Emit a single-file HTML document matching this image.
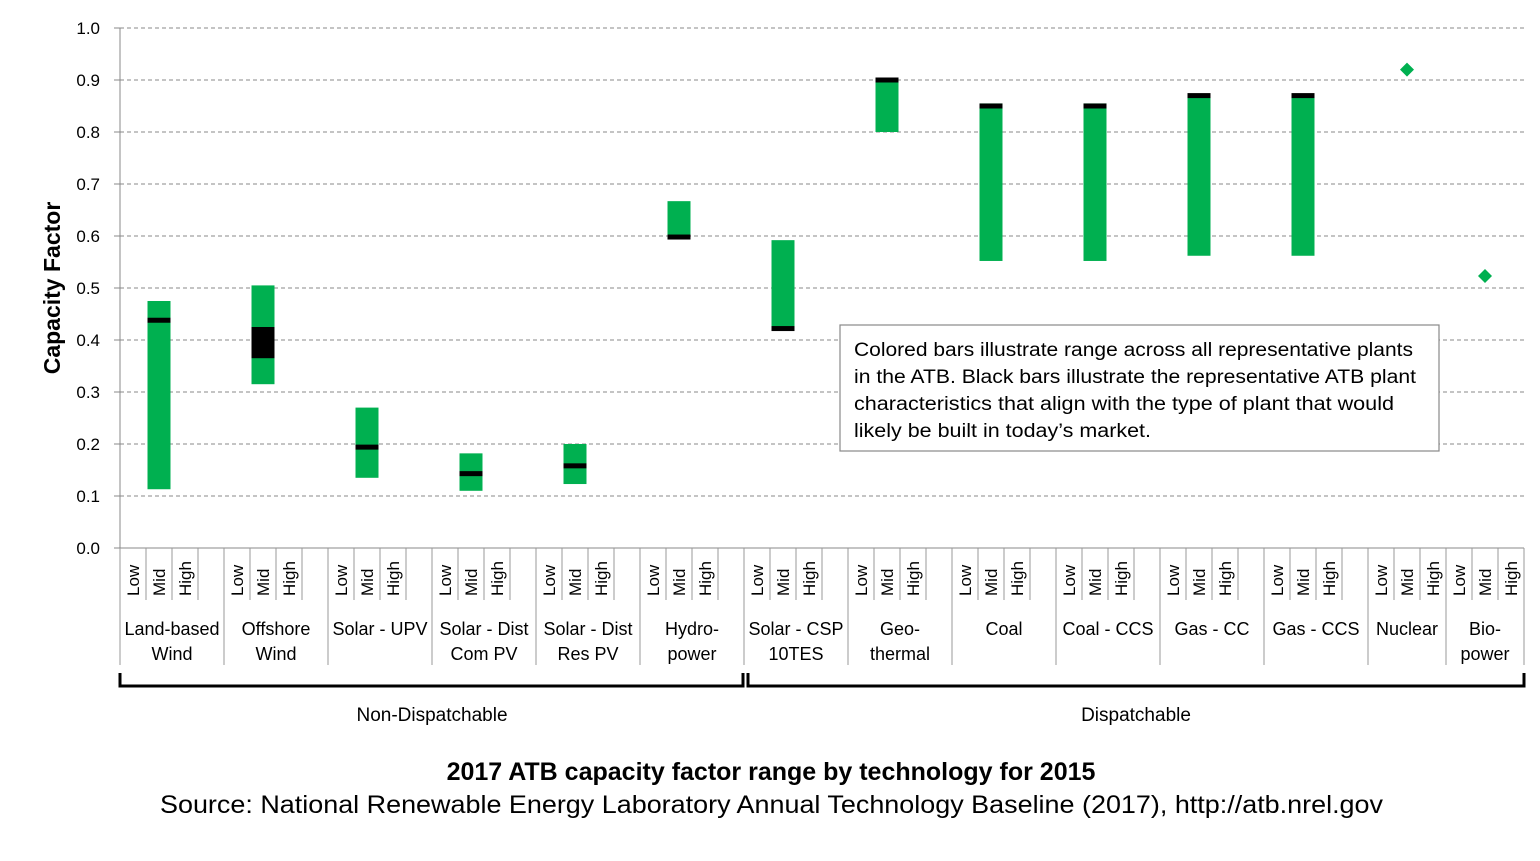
<!DOCTYPE html>
<html><head><meta charset="utf-8"><style>
body{margin:0;background:#fff;}
svg text{font-family:"Liberation Sans",sans-serif;fill:#000;}
</style></head><body>
<svg id="chart" width="1540" height="856" xmlns="http://www.w3.org/2000/svg">
<g id="grid"></g>
<g id="yticks"></g>
<g id="xaxis"></g>
<g id="marks"></g>
<text transform="translate(60,288) rotate(-90)" text-anchor="middle" font-size="23" font-weight="bold">Capacity Factor</text>
<g>
<rect x="840" y="325" width="599" height="126" fill="#fff" stroke="#888" stroke-width="1.2"/>
<text x="854" y="356" font-size="19" textLength="559" lengthAdjust="spacingAndGlyphs">Colored bars illustrate range across all representative plants</text>
<text x="854" y="383" font-size="19" textLength="562" lengthAdjust="spacingAndGlyphs">in the ATB. Black bars illustrate the representative ATB plant</text>
<text x="854" y="410" font-size="19" textLength="540" lengthAdjust="spacingAndGlyphs">characteristics that align with the type of plant that would</text>
<text x="854" y="437" font-size="19" textLength="297" lengthAdjust="spacingAndGlyphs">likely be built in today’s market.</text>
</g>
<path d="M120,673 V686 H743 V673" fill="none" stroke="#000" stroke-width="3"/>
<path d="M748,673 V686 H1524 V673" fill="none" stroke="#000" stroke-width="3"/>
<text x="432" y="721" text-anchor="middle" font-size="19">Non-Dispatchable</text>
<text x="1136" y="721" text-anchor="middle" font-size="19">Dispatchable</text>
<text x="771" y="780" text-anchor="middle" font-size="25" font-weight="bold">2017 ATB capacity factor range by technology for 2015</text>
<text x="160" y="813" font-size="25" textLength="1223" lengthAdjust="spacingAndGlyphs">Source: National Renewable Energy Laboratory Annual Technology Baseline (2017),  http://atb.nrel.gov</text>
</svg>
<script>
const categories=[["Land-based","Wind"],["Offshore","Wind"],["Solar - UPV"],["Solar - Dist","Com PV"],["Solar - Dist","Res PV"],["Hydro-","power"],["Solar - CSP","10TES"],["Geo-","thermal"],["Coal"],["Coal - CCS"],["Gas - CC"],["Gas - CCS"],["Nuclear"],["Bio-","power"]];
const rangeLow=[0.113,0.315,0.135,0.11,0.123,0.6,0.42,0.8,0.552,0.552,0.562,0.562,null,null];
const rangeHigh=[0.475,0.505,0.27,0.182,0.2,0.667,0.592,0.903,0.855,0.855,0.87,0.87,null,null];
const repLow=[0.438,0.365,0.194,0.143,0.158,0.598,0.422,0.9,0.85,0.85,0.87,0.87,null,null];
const repHigh=[0.438,0.425,0.194,0.143,0.158,0.598,0.422,0.9,0.85,0.85,0.87,0.87,null,null];
const pointValues=[null,null,null,null,null,null,null,null,null,null,null,null,0.92,0.523];
const yTicks=[0,0.1,0.2,0.3,0.4,0.5,0.6,0.7,0.8,0.9,1.0];
const subLabels=["Low","Mid","High"];

const NS="http://www.w3.org/2000/svg";
const X0=120,SLOT=26,Y0=548,YH=520,X1=1524;
function y(v){return Y0-v*YH;}
function groupStart(i){return X0+(i<12?i*4*SLOT:48*SLOT+(i-12)*3*SLOT);}
function groupWidth(i){return (i<12?4:3)*SLOT;}
function midX(i){return groupStart(i)+SLOT*1.5;}
function mk(tag,attrs,parent){const e=document.createElementNS(NS,tag);for(const k in attrs)e.setAttribute(k,attrs[k]);parent.appendChild(e);return e;}
const grid=document.getElementById('grid'),yt=document.getElementById('yticks'),xa=document.getElementById('xaxis'),marks=document.getElementById('marks');
yTicks.forEach(t=>{
  if(t>0){const l=mk('line',{x1:X0,x2:X1,y1:y(t),y2:y(t),stroke:'#888','stroke-dasharray':'4,3','stroke-width':1},grid);
  
  }
  const tx=mk('text',{x:100,y:y(t)+6,'text-anchor':'end','font-size':17},yt);
  tx.textContent=t.toFixed(1);
  
  
  mk('line',{x1:X0-6,x2:X0,y1:y(t),y2:y(t),stroke:'#888'},yt);
});
mk('line',{x1:X0,x2:X0,y1:y(1),y2:Y0,stroke:'#888'},yt);
mk('line',{x1:X0,x2:X1,y1:Y0,y2:Y0,stroke:'#888'},xa);
categories.forEach((c,i)=>{
  const gs=groupStart(i),gw=groupWidth(i);
  mk('line',{x1:gs,x2:gs,y1:Y0,y2:665,stroke:'#999'},xa);
  if(i===categories.length-1)mk('line',{x1:gs+gw,x2:gs+gw,y1:Y0,y2:665,stroke:'#999'},xa);
  for(let s=1;s<=3;s++){if(i>=12&&s===3)break;mk('line',{x1:gs+s*SLOT,x2:gs+s*SLOT,y1:Y0,y2:600,stroke:'#999'},xa);}
  subLabels.forEach((s,k)=>{
    const cx=gs+SLOT*k+SLOT/2+6;
    const t=mk('text',{transform:`translate(${cx},596) rotate(-90)`,'font-size':17},xa);
    t.textContent=s;
    
    
  });
  const cx=gs+gw/2;
  c.forEach((line,k)=>{
    const t=mk('text',{x:cx,y:635+k*25,'text-anchor':'middle','font-size':18},xa);
    t.textContent=line;
    
    
  });
  const mx=midX(i);
  if(rangeLow[i]!=null){
    const r=mk('rect',{x:mx-11.5,y:y(rangeHigh[i]),width:23,height:y(rangeLow[i])-y(rangeHigh[i]),fill:'#00b050'},marks);
    
    
    const h=Math.max(5,y(repLow[i])-y(repHigh[i]));
    const b=mk('rect',{x:mx-11.5,y:(y(repHigh[i])+y(repLow[i]))/2-h/2,width:23,height:h,fill:'#000'},marks);
    
    
  }
  if(pointValues[i]!=null){
    const py=y(pointValues[i]);
    const p=mk('polygon',{points:`${mx},${py-7} ${mx+7},${py} ${mx},${py+7} ${mx-7},${py}`,fill:'#00b050'},marks);
    
    
  }
});
</script>
</body></html>
